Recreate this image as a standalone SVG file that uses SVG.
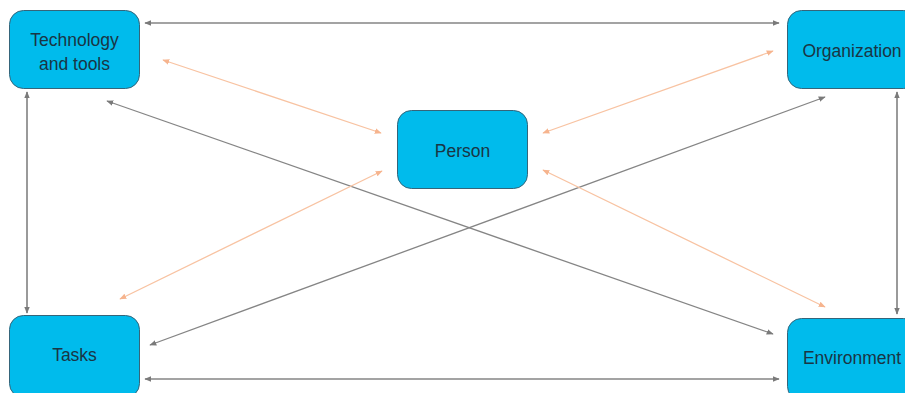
<svg xmlns="http://www.w3.org/2000/svg" width="905" height="393" viewBox="0 0 905 393">
<defs>
<marker id="ag" viewBox="0 0 10 10" refX="9" refY="5" markerWidth="7" markerHeight="7" markerUnits="userSpaceOnUse" orient="auto-start-reverse"><path d="M0,1 L10,5 L0,9 z" fill="#7a7a7a"/></marker>
<marker id="ao" viewBox="0 0 10 10" refX="9" refY="5" markerWidth="7" markerHeight="7" markerUnits="userSpaceOnUse" orient="auto-start-reverse"><path d="M0,1 L10,5 L0,9 z" fill="#f6b48e"/></marker>
</defs>
<style>
.box{fill:#00bbec;stroke:#35657a;stroke-width:1}
.lbl{font-family:"Liberation Sans","DejaVu Sans",sans-serif;font-size:17.5px;fill:#1a3544;text-anchor:middle}
.g{stroke:#858585;stroke-width:1.3;fill:none;marker-start:url(#ag);marker-end:url(#ag)}
.gv{stroke:#9a9a9a;stroke-width:2;fill:none;marker-start:url(#ag);marker-end:url(#ag)}
.o{stroke:#f8c3a2;stroke-width:1.3;fill:none;marker-start:url(#ao);marker-end:url(#ao)}
</style>
<rect width="905" height="393" fill="#ffffff"/>
<g id="connectors">
<line class="g" x1="145" y1="23" x2="779" y2="23"/>
<line class="g" x1="145" y1="379" x2="779" y2="379"/>
<line class="gv" x1="27" y1="92" x2="27" y2="313"/>
<line class="gv" x1="897" y1="92" x2="897" y2="314"/>
<line class="g" x1="107" y1="101" x2="773" y2="334"/>
<line class="g" x1="150" y1="345" x2="825" y2="97"/>
<line class="o" x1="163" y1="60" x2="381" y2="133"/>
<line class="o" x1="543" y1="133" x2="773" y2="51"/>
<line class="o" x1="120" y1="299" x2="382" y2="171"/>
<line class="o" x1="543" y1="170" x2="825" y2="307"/>
</g>
<g id="tech"><rect class="box" x="9.5" y="10.5" width="130" height="78" rx="14"/><text class="lbl" x="74.5" y="46">Technology</text><text class="lbl" x="74.5" y="70">and tools</text></g>
<g id="org"><rect class="box" x="787.5" y="10.5" width="130" height="78" rx="14"/><text class="lbl" x="852" y="57">Organization</text></g>
<g id="person"><rect class="box" x="397.5" y="110.5" width="130" height="78" rx="14"/><text class="lbl" x="462.5" y="157">Person</text></g>
<g id="tasks"><rect class="box" x="9.5" y="315.5" width="130" height="82" rx="14"/><text class="lbl" x="74.5" y="361">Tasks</text></g>
<g id="env"><rect class="box" x="787.5" y="318.5" width="130" height="82" rx="14"/><text class="lbl" x="852" y="364">Environment</text></g>
</svg>
